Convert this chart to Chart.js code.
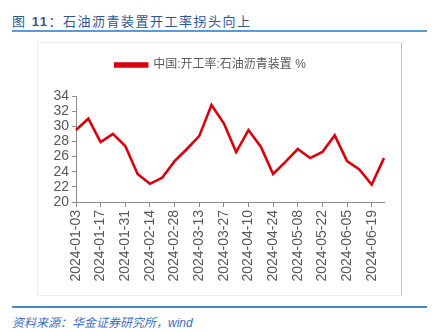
<!DOCTYPE html>
<html>
<head>
<meta charset="utf-8">
<script src="https://cdn.jsdelivr.net/npm/chart.js@4"></script>
<style>
  body { margin: 0; background: #fff; width: 434px; height: 333px; position: relative; overflow: hidden;
         font-family: "Liberation Sans", "Noto Sans CJK SC", sans-serif; }
  #title { position: absolute; left: 12px; top: 11px; font-size: 13px; color: #2f5597; letter-spacing: 1.5px; white-space: nowrap; }
  #title b { font-weight: bold; }
  .rule { position: absolute; left: 12px; width: 415px; height: 2px; background: #5b9bd5; }
  #box { position: absolute; left: 37px; top: 42px; width: 363px; height: 252px; border: 1px solid #eeeeee; border-right: 1.5px solid #bfbfbf; }
  #wrap { position: absolute; left: 37px; top: 42px; width: 364px; height: 253px; }
  #source { position: absolute; left: 12px; top: 313px; font-size: 12px; color: #3a6fc4; font-style: italic; white-space: nowrap; }
</style>
</head>
<body>
<div id="title">图 <b>11</b>：石油沥青装置开工率拐头向上</div>
<div class="rule" style="top:30px"></div>
<div id="box"></div>
<div id="wrap"><canvas id="rateChart"></canvas></div>
<div class="rule" style="top:306px;height:1.5px;background:#4a86c8"></div>
<div id="source">资料来源：华金证券研究所，<span style="font-family:'Liberation Sans';">wind</span></div>
<script>
const dates = [
  '2024-01-03', '2024-01-10', '2024-01-17', '2024-01-24', '2024-01-31', '2024-02-07',
  '2024-02-14', '2024-02-21', '2024-02-28', '2024-03-06', '2024-03-13', '2024-03-20',
  '2024-03-27', '2024-04-03', '2024-04-10', '2024-04-17', '2024-04-24', '2024-05-01',
  '2024-05-08', '2024-05-15', '2024-05-22', '2024-05-29', '2024-06-05', '2024-06-12',
  '2024-06-19', '2024-06-26'
];
const asphaltRate = [
  29.5, 31.0, 27.9, 29.0, 27.4, 23.7, 22.4, 23.2, 25.4, 27.0, 28.7, 32.8, 30.4,
  26.6, 29.5, 27.3, 23.7, 25.3, 27.0, 25.8, 26.6, 28.8, 25.4, 24.3, 22.3, 25.8
];
const seriesName = '中国:开工率:石油沥青装置 %';
const yMin = 20, yMax = 34, yStep = 2;

// push the plot area down a bit below the legend
const legendGap = {
  id: 'legendGap',
  beforeInit(chart) {
    const origFit = chart.legend.fit;
    chart.legend.fit = function () {
      origFit.bind(chart.legend)();
      this.height += 15;
    };
  }
};

document.addEventListener('DOMContentLoaded', function () {
  const ctx = document.getElementById('rateChart').getContext('2d');
  new Chart(ctx, {
    type: 'line',
    data: {
      labels: dates,
      datasets: [{
        label: seriesName,
        data: asphaltRate,
        borderColor: '#d9000d',
        backgroundColor: '#d9000d',
        borderWidth: 2.6,
        pointRadius: 0,
        tension: 0,
        fill: false
      }]
    },
    plugins: [legendGap],
    options: {
      responsive: true,
      maintainAspectRatio: false,
      animation: false,
      layout: { padding: { top: 7, right: 17, left: 0, bottom: 0 } },
      plugins: {
        tooltip: { enabled: false },
        legend: {
          labels: {
            boxWidth: 32,
            boxHeight: 3,
            color: '#595959',
            font: { size: 12, family: '"Liberation Sans", "Noto Sans CJK SC", sans-serif' },
            padding: 10
          }
        }
      },
      scales: {
        x: {
          offset: false,
          grid: { drawOnChartArea: false, drawTicks: true, tickLength: 5, color: '#8c8c8c' },
          border: { color: '#8c8c8c' },
          afterBuildTicks: function (scale) {
            scale.ticks = scale.ticks.filter((t, i) => i % 2 === 0);
          },
          afterFit: function (scale) { scale.height = 93; },
          ticks: {
            autoSkip: false,
            maxRotation: 90,
            minRotation: 90,
            color: '#595959',
            padding: 3,
            font: { size: 14, family: '"Liberation Sans", sans-serif' }
          }
        },
        y: {
          min: yMin,
          max: yMax,
          grid: { drawOnChartArea: false, drawTicks: true, tickLength: 4, color: '#8c8c8c' },
          border: { color: '#8c8c8c' },
          afterFit: function (scale) { scale.width = 39; },
          ticks: {
            stepSize: yStep,
            autoSkip: false,
            color: '#595959',
            padding: 3,
            font: { size: 14, family: '"Liberation Sans Narrow", "Liberation Sans", sans-serif' }
          }
        }
      }
    }
  });
});
</script>
</body>
</html>
